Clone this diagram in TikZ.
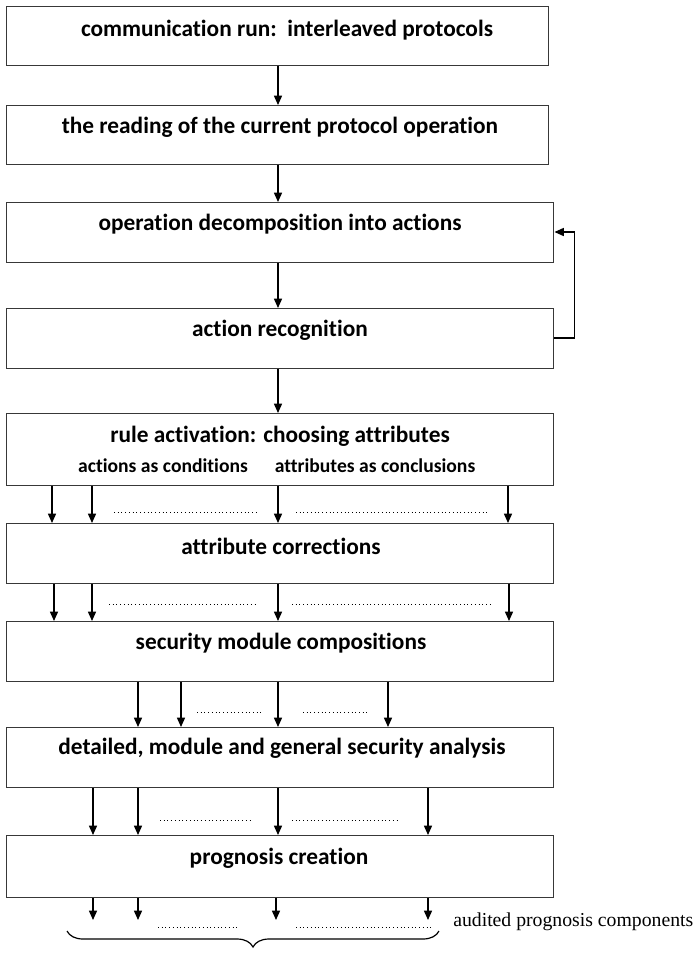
\documentclass[tikz,border=0pt]{standalone}
\usepackage{fontspec}
\setmainfont{Carlito}[Ligatures=NoCommon]
\newfontfamily\timesfont{Liberation Serif}
\usetikzlibrary{arrows.meta,calc,decorations.pathreplacing}
\tikzset{
  box/.style={draw=black!78, line width=1.1pt, rectangle, anchor=north west, inner sep=0pt, minimum width=410.25pt},
  lbl/.style={font=\bfseries\fontsize{17.5}{20}\selectfont, inner sep=0pt},
  sublbl/.style={font=\bfseries\fontsize{14.7}{17}\selectfont, inner sep=0pt},
  arr/.style={line width=1.1pt, -{Triangle[length=7pt,width=6pt]}},
  dotline/.style={line width=0.7pt, dash pattern=on 0.7pt off 2.1pt}
}
\begin{document}
\begin{tikzpicture}[x=0.75pt,y=-0.75pt]
\useasboundingbox (0,0) rectangle (695,954);
% boxes
\node[box, minimum width=406.5pt, minimum height=44.25pt] (b1) at (6,6) {};
\node[box, minimum width=406.5pt, minimum height=44.25pt] (b2) at (6,105) {};
\node[box, minimum height=45pt] (b3) at (6,202) {};
\node[box, minimum height=45pt] (b4) at (6,308) {};
\node[box, minimum height=54pt] (b5) at (6,413) {};
\node[box, minimum height=45pt] (b6) at (6,523) {};
\node[box, minimum height=45pt] (b7) at (6,621) {};
\node[box, minimum height=45pt] (b8) at (6,727) {};
\node[box, minimum height=46.5pt] (b9) at (6,835) {};
% texts
\node[lbl] (t1) at (287,30) {communication run:\ \ interleaved protocols};
\node[lbl] (t2) at (280,127) {the reading of the current protocol operation};
\node[lbl] (t3) at (280,224) {operation decomposition into actions};
\node[lbl] (t4) at (280,330) {action recognition};
\node[lbl] (t5) at (280,436) {rule activation: choosing attributes};
\node[sublbl] (t5a) at (163,466) {actions as conditions};
\node[sublbl] (t5b) at (375,466) {attributes as conclusions};
\node[lbl] (t6) at (281,546) {attribute corrections};
\node[lbl] (t7) at (281,643) {security module compositions};
\node[lbl] (t8) at (282,748) {detailed, module and general security analysis};
\node[lbl] (t9) at (279,858) {prognosis creation};
% main chain
\draw[arr] ($(b1.south west)+(272,0)$) -- ($(b2.north west)+(272,0)$);
\draw[arr] ($(b2.south west)+(272,0)$) -- ($(b3.north west)+(272,0)$);
\draw[arr] ($(b3.south west)+(272,0)$) -- ($(b4.north west)+(272,0)$);
\draw[arr] ($(b4.south west)+(272,0)$) -- ($(b5.north west)+(272,0)$);
% loop back
\draw[arr] ($(b4.north east)+(0,30)$) -- ++(20,0) |- ($(b3.north east)+(0,30)$);
% b5 -> b6
\foreach \dx in {46,86,272,502}
  \draw[arr] ($(b5.south west)+(\dx,0)$) -- ($(b6.north west)+(\dx,0)$);
\draw[dotline] (114,512) -- (258,512);
\draw[dotline] (296,512) -- (490,512);
% b6 -> b7
\foreach \dx in {48,86,272,503}
  \draw[arr] ($(b6.south west)+(\dx,0)$) -- ($(b7.north west)+(\dx,0)$);
\draw[dotline] (109,604) -- (258,604);
\draw[dotline] (292,604) -- (490,604);
% b7 -> b8
\foreach \dx in {132,175,272,382}
  \draw[arr] ($(b7.south west)+(\dx,0)$) -- ($(b8.north west)+(\dx,0)$);
\draw[dotline] (197,712) -- (262,712);
\draw[dotline] (303,712) -- (368,712);
% b8 -> b9
\foreach \dx in {87,132,272,422}
  \draw[arr] ($(b8.south west)+(\dx,0)$) -- ($(b9.north west)+(\dx,0)$);
\draw[dotline] (160,820) -- (252,820);
\draw[dotline] (292,820) -- (400,820);
% outputs
\coordinate (e1) at (93,920);
\coordinate (e2) at (138,920);
\coordinate (e3) at (276,920);
\coordinate (e4) at (428,920);
\draw[arr] (b9.south west -| e1) -- (e1);
\draw[arr] (b9.south west -| e2) -- (e2);
\draw[arr] (b9.south west -| e3) -- (e3);
\draw[arr] (b9.south west -| e4) -- (e4);
\draw[dotline] (158,927) -- (240,927);
\draw[dotline] (296,927) -- (432,927);
\draw[line width=0.9pt, decorate, decoration={brace, mirror, amplitude=12pt}] (67,931) -- (439,931);
\node[font=\timesfont\fontsize{14.8}{17}\selectfont, inner sep=0pt, anchor=west] (out) at (453,922) {audited prognosis components};
\end{tikzpicture}
\end{document}
